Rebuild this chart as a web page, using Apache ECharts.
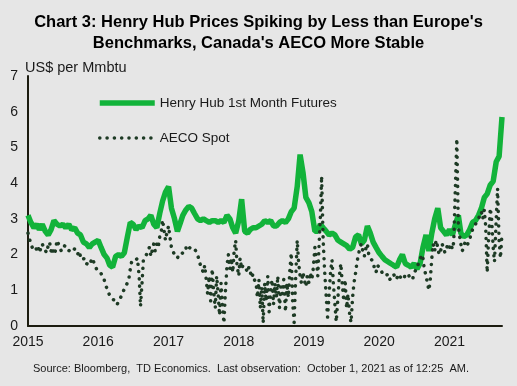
<!DOCTYPE html>
<html><head><meta charset="utf-8">
<script src="https://cdn.jsdelivr.net/npm/echarts@6/dist/echarts.min.js"></script>
<style>html,body{margin:0;padding:0;background:#e6e6e6;}#c{width:517px;height:386px;}</style>
</head><body><div id="c"></div>
<script>
var years = ['2015','2016','2017','2018','2019','2020','2021'];
var yTicks = [0,1,2,3,4,5,6,7];

// Henry Hub: 1st and 16th of each month, Jan 2015 .. Oct 1 2021
var henryHub = [
  // 2015
  3.1, 2.9, 2.75, 2.85, 2.7, 2.85, 2.65, 2.55, 2.7, 2.95, 2.85, 2.8, 2.85, 2.75, 2.85, 2.7, 2.75, 2.6, 2.55, 2.35, 2.3, 2.2, 2.3, 2.35,
  // 2016
  2.4, 2.2, 2.0, 1.9, 1.7, 1.65, 1.95, 2.0, 1.95, 2.05, 2.5, 2.9, 2.85, 2.7, 2.8, 2.75, 2.95, 3.0, 3.1, 2.85, 2.75, 3.15, 3.5, 3.75,
  // 2017
  3.9, 3.3, 3.0, 2.65, 2.85, 3.1, 3.25, 3.35, 3.3, 3.15, 3.0, 2.95, 3.0, 2.95, 2.9, 2.95, 2.95, 2.9, 2.95, 2.9, 3.1, 3.0, 2.75, 2.6,
  // 2018
  2.95, 3.55, 2.65, 2.6, 2.7, 2.75, 2.75, 2.8, 2.85, 2.95, 2.9, 2.95, 2.8, 2.8, 2.9, 2.95, 2.9, 3.0, 3.2, 3.3, 3.9, 4.8, 4.3, 3.6,
  // 2019
  3.45, 3.2, 2.65, 2.65, 2.85, 2.75, 2.65, 2.55, 2.6, 2.55, 2.4, 2.35, 2.3, 2.25, 2.15, 2.2, 2.5, 2.55, 2.3, 2.4, 2.8, 2.6, 2.35, 2.2,
  // 2020
  2.05, 1.95, 1.85, 1.8, 1.75, 1.7, 1.65, 1.85, 2.0, 1.75, 1.7, 1.65, 1.75, 1.6, 1.75, 2.2, 2.55, 2.1, 2.6, 3.0, 3.3, 2.75, 2.65, 2.55,
  // 2021
  2.7, 2.55, 2.85, 3.1, 2.6, 2.5, 2.55, 2.7, 2.9, 2.95, 3.1, 3.3, 3.6, 3.7, 3.95, 4.05, 4.6, 4.75, 5.85
];

// AECO spot: 1st, 8th, 16th, 23rd of each month, Jan 2015 .. Oct 1 2021
var aeco = [
  // 2015
  2.6, 2.45, 2.3, 2.2, 2.15, 2.25, 2.1, 2.2, 2.05, 2.1, 2.3, 2.2, 2.15, 2.05, 2.25, 2.35, 2.1, 2.2, 2.0, 2.1, 2.4, 2.3, 2.2, 2.1,
  2.15, 2.25, 2.3, 2.2, 2.1, 2.05, 2.2, 2.25, 2.15, 2.1, 2.0, 2.1, 1.95, 1.85, 1.8, 1.9, 1.75, 1.8, 1.7, 1.65, 1.9, 1.8, 1.75, 1.6,
  // 2016
  1.6, 1.55, 1.5, 1.4, 1.3, 1.15, 1.05, 0.95, 0.85, 0.8, 0.75, 0.8, 0.7, 0.6, 0.55, 0.75, 0.85, 0.95, 1.0, 1.1, 1.05, 1.3, 1.6, 1.8,
  1.85, 1.8, 1.75, 1.9, 1.4, 0.55, 1.2, 1.85, 1.9, 2.0, 2.1, 2.2, 1.95, 2.0, 2.3, 2.1, 2.3, 2.2, 2.5, 2.6, 2.97, 2.7, 2.4, 2.6,
  // 2017
  2.8, 2.5, 2.2, 2.1, 2.0, 1.95, 1.9, 2.0, 2.05, 2.0, 1.95, 2.1, 2.2, 2.1, 2.15, 2.2, 2.25, 2.2, 2.15, 2.1, 2.0, 1.85, 1.7, 1.6,
  1.5, 1.7, 1.3, 0.9, 1.4, 0.7, 1.6, 1.0, 0.5, 1.4, 0.9, 0.3, 1.2, 0.6, 0.08, 0.9, 1.7, 2.0, 1.6, 1.9, 1.5, 2.1, 2.4, 1.7,
  // 2018
  1.4, 1.9, 1.6, 1.7, 1.75, 1.6, 1.5, 1.65, 1.55, 1.35, 1.45, 1.3, 1.2, 0.8, 1.3, 0.5, 1.1, 0.08, 1.2, 0.7, 1.4, 0.4, 1.0, 1.3,
  0.6, 1.2, 0.8, 1.4, 0.5, 1.1, 0.9, 1.3, 0.4, 1.2, 0.8, 1.5, 2.05, 0.7, 0.1, 1.2, 2.4, 1.8, 1.4, 1.2, 1.5, 1.3, 1.1, 1.4,
  // 2019
  1.2, 1.5, 1.3, 1.6, 2.2, 1.9, 1.4, 2.3, 3.0, 4.2, 2.4, 1.6, 0.8, 0.25, 0.9, 1.5, 1.85, 1.2, 0.6, 0.12, 0.8, 1.4, 1.75, 1.2,
  0.7, 1.3, 0.5, 0.9, 0.3, 0.1, 0.8, 1.2, 1.5, 1.8, 2.0, 2.2, 2.3, 2.1, 1.95, 2.15, 2.3, 2.0, 1.9, 1.85, 1.8, 1.6, 1.5, 1.7,
  // 2020
  1.75, 1.6, 1.5, 1.45, 1.4, 1.35, 1.45, 1.3, 1.25, 1.35, 1.45, 1.4, 1.3, 1.45, 1.5, 1.35, 1.4, 1.3, 1.45, 1.5, 1.45, 1.35, 1.4, 1.3,
  1.5, 1.45, 1.6, 1.75, 1.85, 2.0, 1.9, 1.6, 1.4, 1.2, 1.0, 1.3, 1.9, 2.3, 2.1, 2.4, 2.2, 2.0, 2.1, 2.3, 2.2, 2.05, 2.15, 2.3,
  // 2021
  2.2, 2.3, 2.15, 2.35, 2.4, 5.25, 2.8, 2.5, 2.3, 2.1, 2.2, 2.35, 2.25, 2.2, 2.4, 2.6, 2.7, 2.8, 2.75, 2.9, 3.0, 3.1, 3.2, 3.0,
  3.25, 2.8, 1.5, 2.4, 3.3, 3.0, 2.2, 1.8, 3.0, 3.85, 2.4, 1.9, 2.6
];

function buildDates(days, n) {
  var out = [];
  for (var yi = 0; yi < years.length; yi++) {
    for (var m = 1; m <= 12; m++) {
      var mm = (m < 10 ? '0' : '') + m;
      for (var d = 0; d < days.length; d++) out.push(years[yi] + '-' + mm + '-' + days[d]);
    }
  }
  return out.slice(0, n);
}
var hhDates = buildDates(['01', '16'], henryHub.length);
var aecoDates = buildDates(['01', '08', '16', '23'], aeco.length);

function pairs(dates, vals) {
  return vals.map(function (v, i) { return [dates[i], v]; });
}

var YEAR = 365 * 24 * 3600 * 1000;
var font = 'Liberation Sans, Arial, sans-serif';
var hhStyle = {color: '#12b33a', width: 5.5};
var aecoStyle = {color: '#1d3a24', width: 3.5, type: [0.1, 7.2], cap: 'round'};

var chart = echarts.init(document.getElementById('c'), null, {renderer: 'canvas'});
chart.setOption({
  backgroundColor: '#e6e6e6',
  animation: false,
  textStyle: {fontFamily: font},
  title: {
    text: "Chart 3: Henry Hub Prices Spiking by Less than Europe's\nBenchmarks, Canada's AECO More Stable",
    left: 'center', top: 7,
    textStyle: {fontSize: 16.5, fontWeight: 'bold', color: '#000', lineHeight: 21, fontFamily: font}
  },
  legend: {
    orient: 'vertical', left: 92, top: 91, itemWidth: 55, itemHeight: 14, itemGap: 21,
    textStyle: {fontSize: 13.5, color: '#1a1a1a', fontFamily: font},
    itemStyle: {opacity: 0},
    data: [
      {name: 'Henry Hub 1st Month Futures', lineStyle: {width: 5.5}},
      {name: 'AECO Spot', lineStyle: {width: 3.5}}
    ]
  },
  graphic: [{
    type: 'text', left: 33, top: 363,
    style: {text: 'Source: Bloomberg,  TD Economics.  Last observation:  October 1, 2021 as of 12:25  AM.', fontSize: 11, fill: '#1a1a1a', fontFamily: font}
  }],
  grid: {left: 28, right: 15, top: 76, bottom: 60, containLabel: false},
  xAxis: {
    type: 'time', min: '2015-01-01', max: '2021-10-01',
    minInterval: YEAR, maxInterval: YEAR + 2 * 24 * 3600 * 1000,
    axisLine: {lineStyle: {color: '#1c1c10', width: 2}},
    axisTick: {show: false},
    axisLabel: {formatter: '{yyyy}', fontSize: 14, color: '#1a1a1a', margin: 9, showMaxLabel: false, showMinLabel: true},
    splitLine: {show: false}
  },
  yAxis: {
    type: 'value', min: yTicks[0], max: yTicks[yTicks.length - 1], interval: 1,
    name: 'US$ per Mmbtu', nameLocation: 'end', nameGap: 1,
    nameTextStyle: {fontSize: 14.5, color: '#1a1a1a', align: 'left', padding: [0, 0, 0, -3], fontFamily: font},
    axisLine: {show: true, lineStyle: {color: '#1c1c10', width: 2}},
    axisTick: {show: false},
    axisLabel: {fontSize: 14, color: '#1a1a1a', margin: 10},
    splitLine: {show: false}
  },
  series: [{
    name: 'Henry Hub 1st Month Futures', type: 'line', data: pairs(hhDates, henryHub),
    showSymbol: false, symbol: 'none',
    lineStyle: hhStyle,
    itemStyle: {color: hhStyle.color}
  }, {
    name: 'AECO Spot', type: 'line', data: pairs(aecoDates, aeco),
    showSymbol: false, symbol: 'none',
    lineStyle: aecoStyle,
    itemStyle: {color: aecoStyle.color}
  }]
});
</script></body></html>
